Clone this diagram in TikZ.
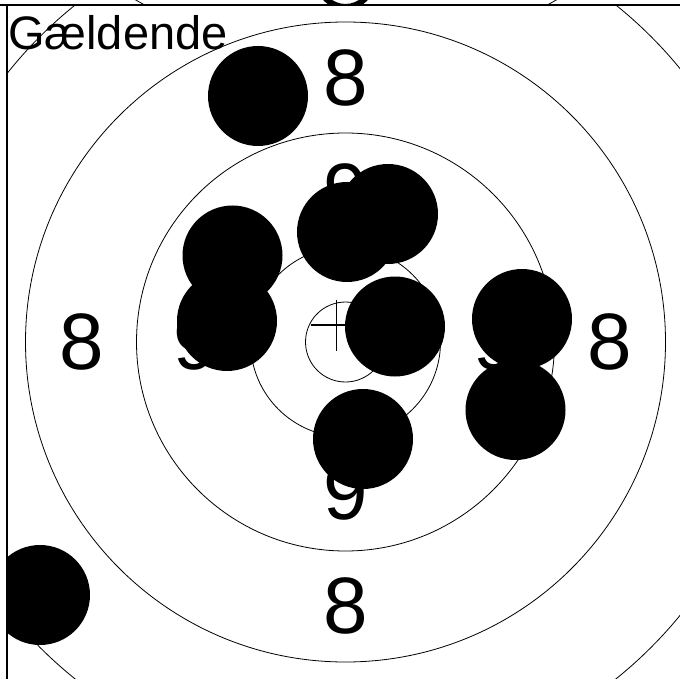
\documentclass[tikz,border=0pt]{standalone}
\usepackage{fontspec}
\setmainfont{Liberation Sans}
\begin{document}
\begin{tikzpicture}[x=1pt,y=-1pt,
  ring/.style={line width=0.8pt},
  shot/.style={fill=black},
  score/.style={font=\fontsize{80}{80}\selectfont, inner sep=0pt},
  frameline/.style={line width=1.6pt}]
\useasboundingbox (0,0) rectangle (680,679);
\fill[white] (0,0) rectangle (680,679);
% upper (neighbouring) target, barely visible
\begin{scope}
  \clip (0,0) rectangle (680,5);
  \draw[ring] (346,-366) circle[radius=422pt];
  \fill[even odd rule] (345.5,-20) circle[radius=30pt] (345.5,-20) circle[radius=24pt];
\end{scope}
% main target
\begin{scope}
  \clip (7,5) rectangle (680,679);
  \foreach \r in {40,95,209,320,432}
    \draw[ring] (345.5,342) circle[radius=\r pt];
  \node[score] (e1) at (345.5,78) {8};
  \node[score] (e2) at (345.5,606) {8};
  \node[score] (e3) at (81.5,342) {8};
  \node[score] (e4) at (609.5,342) {8};
  \node[score] (n1) at (345.5,192) {9};
  \node[score] (n2) at (345.5,492) {9};
  \node[score] (n3) at (195.5,342) {9};
  \node[score] (n4) at (495.5,342) {9};
  \draw[line width=1.6pt] (311,325) -- (362,325) (336.5,299.5) -- (336.5,350.5);
  \foreach \p in {(258,96),(232.5,255.5),(227,321),(347,232),(388,214),(395,326.5),(522,319),(515.5,410),(363,439),(40,595)}
    \fill[shot] \p circle[radius=50pt];
\end{scope}
\draw[frameline] (0,5) -- (680,5);
\draw[frameline] (7,5) -- (7,679);
\node[anchor=base west, inner sep=0pt, font=\fontsize{47}{47}\selectfont] (title) at (8,50) {Gældende};
\end{tikzpicture}
\end{document}
